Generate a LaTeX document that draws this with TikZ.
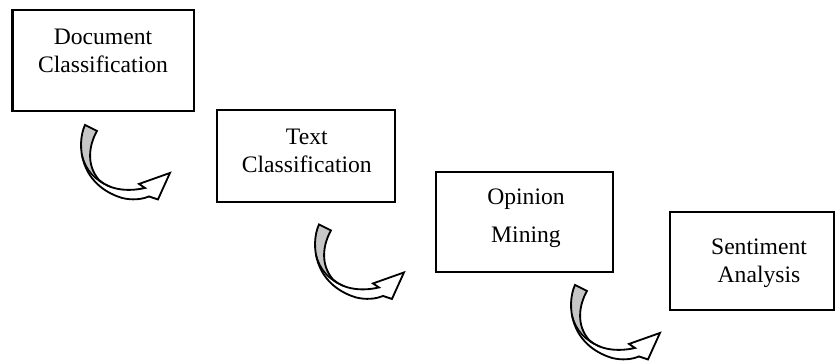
\documentclass[tikz,border=0pt]{standalone}
\usepackage{fontspec}
\setmainfont{Liberation Serif}
\usepackage{tikz}

\def\bentoutline{(85,125) .. controls (76,145) and (80,185) .. (122,198)
    .. controls (132,200.5) and (142,199.5) .. (149,196.5)
    -- (158,199.5) -- (170,173) -- (139,184) -- (145,188)
    .. controls (128,192) and (110,190) .. (99,180)
    .. controls (86,165) and (89,145) .. (97,131) -- cycle}
\newcommand{\bentarrow}[1]{%
    \begin{scope}[shift={#1}, x=0.025cm, y=-0.025cm]
        \fill[white] \bentoutline;
        \begin{scope}
            \clip \bentoutline;
            \fill[gray!45] (70,110) -- (70,150) -- (82,155.6) .. controls (86,170) and (95,181) .. (110.6,186.9) -- (118,182) -- (118,110) -- cycle;
        \end{scope}
        \draw[line width=1.3pt] \bentoutline;
        \draw[line width=1.1pt] (82,155.6) .. controls (86,170) and (95,181) .. (110.6,186.9);
    \end{scope}}

\begin{document}
\begin{tikzpicture}[
    every node/.style={inner sep=0pt},
    stage/.style={draw, line width=1.7pt, fill=white},
    caption/.style={align=center, font=\fontsize{16.8}{19.7}\selectfont}
  ]
    \useasboundingbox (0cm, 0cm) rectangle (20.9cm, -9.075cm);

    \node (doc) [stage, minimum width=4.53cm, minimum height=2.52cm] at (2.58cm, -1.51cm) {};
    \node (text) [stage, minimum width=4.45cm, minimum height=2.3cm] at (7.65cm, -3.9cm) {};
    \node (opinion) [stage, minimum width=4.43cm, minimum height=2.5cm] at (13.11cm, -5.55cm) {};
    \node (sentiment) [stage, minimum width=4.1cm, minimum height=2.45cm] at (18.8cm, -6.525cm) {};

    \node (doc-label) [caption] at (2.575cm, -1.278cm) {Document\\Classification};
    \node (text-label) [caption] at (7.67cm, -3.78cm) {Text\\Classification};
    \node (opinion-label) [caption, font=\fontsize{16.8}{27}\selectfont] at (13.15cm, -5.4625cm) {Opinion\\Mining};
    \node (sentiment-label) [caption] at (18.975cm, -6.5875cm) {Sentiment\\Analysis};

    \bentarrow{(0cm, 0cm)}
    \bentarrow{(5.85cm, -2.4875cm)}
    \bentarrow{(12.25cm, -4cm)}
\end{tikzpicture}
\end{document}
